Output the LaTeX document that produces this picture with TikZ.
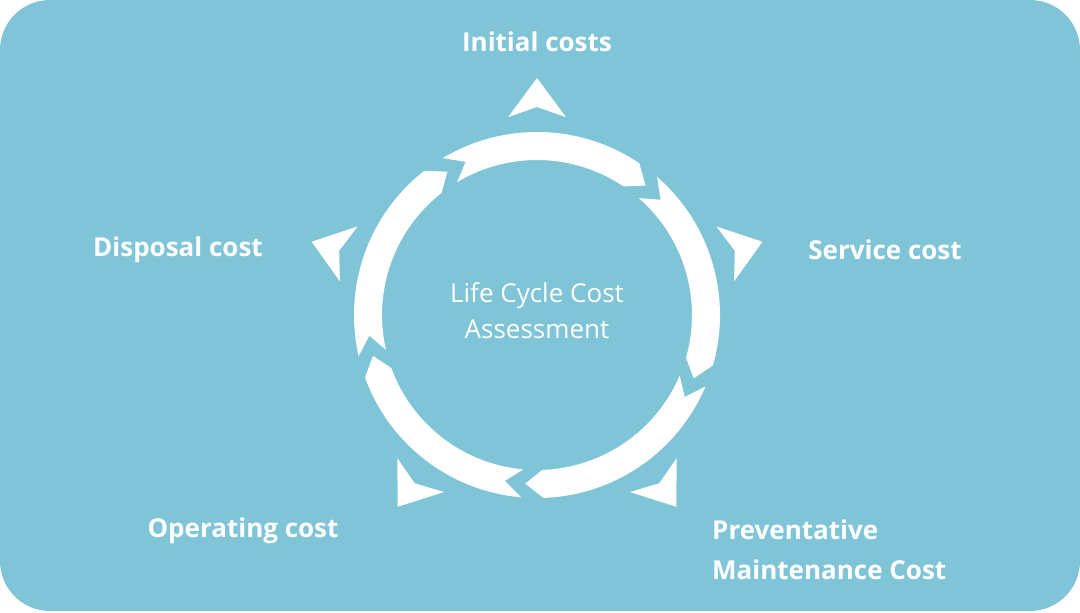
\documentclass[tikz,border=0pt]{standalone}
\usepackage{fontspec}
\setmainfont{Open Sans}
\usetikzlibrary{calc}
\definecolor{bg}{HTML}{7FC4D7}
\begin{document}
\begin{tikzpicture}[x=1pt,y=1pt,
  lbl/.style={text=white,font=\fontsize{26}{30}\selectfont\bfseries,inner sep=0pt},
  ctr/.style={text=white,font=\fontsize{26}{36}\selectfont,align=center,inner sep=0pt}]
\useasboundingbox (0,0) rectangle (1080,613);
\fill[bg,rounded corners=50pt] (0,2) rectangle (1080,613);
\coordinate (c) at (537,298);
\def\ro{183}\def\ri{155}\def\rm{169}
\foreach \g in {122,50,-22,-94,-166}{
  \pgfmathsetmacro{\s}{\g-1}
  \pgfmathsetmacro{\e}{\g-72+6}
  \pgfmathsetmacro{\t}{\g-72}
  \pgfmathsetmacro{\n}{\g-7}
  \fill[white] ($(c)+(\s:\ro)$) arc[start angle=\s,end angle=\e,radius=\ro]
    -- ($(c)+(\t:\rm)$) -- ($(c)+(\e:\ri)$)
    arc[start angle=\e,end angle=\s,radius=\ri] -- ($(c)+(\n:\rm)$) -- cycle;
}
\foreach \a in {90,18,162,-54,-126}{
  \fill[white] ($(c)+(\a:237)$) -- ($(c)+(\a+8.3:200)$) -- ($(c)+(\a:208)$) -- ($(c)+(\a-8.3:200)$) -- cycle;
}
\node[lbl] (ini) at (537,571) {Initial costs};
\node[lbl] (ser) at (885,363) {Service cost};
\node[lbl] (dis) at (178,363) {Disposal cost};
\node[lbl] (ope) at (243,82) {Operating cost};
\node[lbl,anchor=west,align=left,font=\fontsize{26}{40}\selectfont\bfseries] (pre) at (712,63) {Preventative\\Maintenance Cost};
\node[ctr] (lcc) at (537,302) {Life Cycle Cost\\Assessment};
\end{tikzpicture}
\end{document}
